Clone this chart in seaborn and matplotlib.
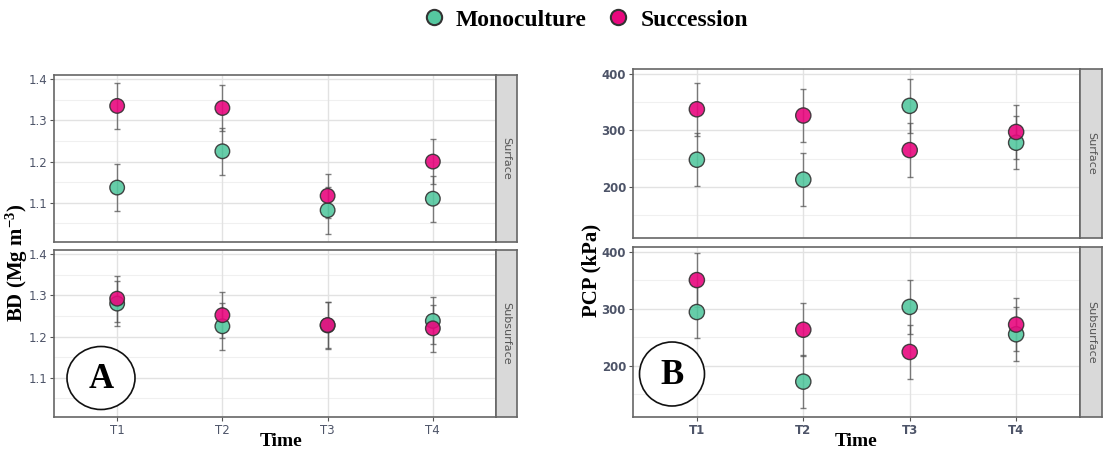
import numpy as np
import pandas as pd
import matplotlib
matplotlib.use("Agg")
import matplotlib.pyplot as plt
from matplotlib.patches import Ellipse
from matplotlib.lines import Line2D
import seaborn as sns

# ---------------- data ----------------
times = ["T1", "T2", "T3", "T4"]
treatments = ["Monoculture", "Succession"]
depths = ["Surface", "Subsurface"]

bd_surface_mono = [1.137, 1.225, 1.082, 1.110]
bd_surface_mono_err = [0.056, 0.057, 0.057, 0.056]
bd_surface_succ = [1.335, 1.330, 1.117, 1.200]
bd_surface_succ_err = [0.055, 0.056, 0.053, 0.055]
bd_subsurface_mono = [1.280, 1.225, 1.227, 1.238]
bd_subsurface_mono_err = [0.055, 0.057, 0.056, 0.057]
bd_subsurface_succ = [1.292, 1.252, 1.228, 1.220]
bd_subsurface_succ_err = [0.056, 0.055, 0.056, 0.057]

pcp_surface_mono = [248, 213, 343, 278]
pcp_surface_mono_err = [47, 47, 48, 47]
pcp_surface_succ = [337, 326, 265, 297]
pcp_surface_succ_err = [47, 47, 47, 47]
pcp_subsurface_mono = [294, 172, 303, 255]
pcp_subsurface_mono_err = [46, 47, 47, 47]
pcp_subsurface_succ = [350, 263, 224, 272]
pcp_subsurface_succ_err = [47, 46, 47, 47]

bd_yticks = [1.1, 1.2, 1.3, 1.4]
pcp_yticks = [200, 300, 400]

colors = {"Monoculture": "#55C8A0", "Succession": "#E8087E"}

sns.set_theme(style="white")
plt.rcParams["font.family"] = ["DejaVu Sans"]
plt.rcParams["mathtext.fontset"] = "custom"
plt.rcParams["mathtext.rm"] = "Liberation Serif:bold"
plt.rcParams["mathtext.bf"] = "Liberation Serif:bold"
plt.rcParams["mathtext.it"] = "Liberation Serif:bold"
plt.rcParams["text.color"] = "black"

W, H = 1120, 454
fig = plt.figure(figsize=(W / 100, H / 100), dpi=100)
fig.patch.set_facecolor("white")


def add_ax(x0, y0, x1, y1):
    return fig.add_axes([x0 / W, 1 - y1 / H, (x1 - x0) / W, (y1 - y0) / H])


def make_df(mono, mono_err, succ, succ_err):
    rows = []
    for t, m, me in zip(times, mono, mono_err):
        rows.append({"Time": t, "Treatment": "Monoculture", "value": m, "err": me})
    for t, s, se in zip(times, succ, succ_err):
        rows.append({"Time": t, "Treatment": "Succession", "value": s, "err": se})
    return pd.DataFrame(rows)


def draw_panel(ax, df, ylim, yticks, minor, fmt, show_x, tick_bold, msize):
    ax.set_facecolor("white")
    for gy in minor:
        ax.axhline(gy, color="#F0F0F0", lw=0.8, zorder=0)
    for gy in yticks:
        ax.axhline(gy, color="#E2E2E2", lw=1.0, zorder=0)
    for gx in range(len(times)):
        ax.axvline(gx, color="#E2E2E2", lw=1.0, zorder=0)
    for tr in treatments:
        sub = df[df["Treatment"] == tr]
        xs = [times.index(t) for t in sub["Time"]]
        ax.errorbar(xs, sub["value"], yerr=sub["err"], fmt="none",
                    ecolor="#555555", elinewidth=1.0, capsize=2, capthick=1.0,
                    alpha=0.75, zorder=2)
    sns.scatterplot(data=df, x="Time", y="value", hue="Treatment",
                    hue_order=treatments, palette=colors, s=msize,
                    edgecolor="#333333", linewidth=1.0, alpha=0.9,
                    legend=False, ax=ax, zorder=3)
    ax.set_xlim(-0.6, 3.6)
    ax.set_ylim(*ylim)
    ax.set_yticks(yticks)
    ax.set_yticklabels([fmt.format(v) for v in yticks], color="#4D5468",
                       fontsize=8.5, fontweight="bold" if tick_bold else "normal")
    ax.set_xticks(range(len(times)))
    if show_x:
        ax.set_xticklabels(times, color="#4D5468", fontsize=8.5,
                           fontweight="bold" if tick_bold else "normal")
    else:
        ax.set_xticklabels([])
        ax.tick_params(axis="x", length=0)
    ax.tick_params(axis="both", which="major", length=3, width=0.8,
                   color="#555555", pad=2, left=True, bottom=show_x)
    ax.set_xlabel("")
    ax.set_ylabel("")
    for sp in ax.spines.values():
        sp.set_color("#666666")
        sp.set_linewidth(1.2)


def draw_strip(x0, y0, x1, y1, label):
    sax = add_ax(x0, y0, x1, y1)
    sax.set_facecolor("#D9D9D9")
    sax.set_xticks([])
    sax.set_yticks([])
    for sp in sax.spines.values():
        sp.set_color("#666666")
        sp.set_linewidth(1.2)
    sax.text(0.5, 0.5, label, rotation=270, ha="center", va="center",
             color="#555555", fontsize=8, transform=sax.transAxes)


bd_frames = {
    "Surface": make_df(bd_surface_mono, bd_surface_mono_err, bd_surface_succ, bd_surface_succ_err),
    "Subsurface": make_df(bd_subsurface_mono, bd_subsurface_mono_err, bd_subsurface_succ, bd_subsurface_succ_err),
}
pcp_frames = {
    "Surface": make_df(pcp_surface_mono, pcp_surface_mono_err, pcp_surface_succ, pcp_surface_succ_err),
    "Subsurface": make_df(pcp_subsurface_mono, pcp_subsurface_mono_err, pcp_subsurface_succ, pcp_subsurface_succ_err),
}

bd_boxes = {"Surface": (54, 75, 496, 242), "Subsurface": (54, 250, 496, 417)}
pcp_boxes = {"Surface": (633, 69, 1080, 238), "Subsurface": (633, 247, 1080, 417)}

for d in depths:
    x0, y0, x1, y1 = bd_boxes[d]
    ax = add_ax(x0, y0, x1, y1)
    draw_panel(ax, bd_frames[d], (1.005, 1.41), bd_yticks, [1.05, 1.15, 1.25, 1.35],
               "{:.1f}", d == "Subsurface", False, 110)
    draw_strip(x1, y0, x1 + 21, y1, d)

for d in depths:
    x0, y0, x1, y1 = pcp_boxes[d]
    ax = add_ax(x0, y0, x1, y1)
    draw_panel(ax, pcp_frames[d], (110, 408), pcp_yticks, [150, 250, 350],
               "{:d}", d == "Subsurface", True, 120)
    draw_strip(x1, y0, x1 + 22, y1, d)

serif = ["Liberation Serif", "DejaVu Serif"]

# axis titles
fig.text(17 / W, 1 - 263 / H, r"BD (Mg m$^{-3}$)", rotation=90, ha="center", va="center",
         fontsize=15, fontweight="bold", family=serif, color="black")
fig.text(591 / W, 1 - 270 / H, "PCP (kPa)", rotation=90, ha="center", va="center",
         fontsize=15, fontweight="bold", family=serif, color="black")
fig.text(281 / W, 1 - 441 / H, "Time", ha="center", va="center",
         fontsize=14, fontweight="bold", family=serif, color="black")
fig.text(856 / W, 1 - 441 / H, "Time", ha="center", va="center",
         fontsize=14, fontweight="bold", family=serif, color="black")

# panel letters in circles
for cx, cy, ew, eh, letter in [(101, 378, 68, 63, "A"), (672, 374, 65, 64, "B")]:
    e = Ellipse((cx / W, 1 - cy / H), ew / W, eh / H, transform=fig.transFigure,
                facecolor="white", edgecolor="#111111", lw=1.2, zorder=10)
    fig.patches.append(e)
    fig.text(cx / W, 1 - (cy + 1) / H, letter, ha="center", va="center",
             fontsize=25, fontweight="bold", family=serif, color="black", zorder=11)

# legend
handles = [Line2D([0], [0], marker="o", linestyle="", markersize=11,
                  markerfacecolor=colors[t], markeredgecolor="#333333",
                  markeredgewidth=1.5, label=t) for t in treatments]
leg = fig.legend(handles=handles, loc="center", bbox_to_anchor=(585 / W, 1 - 20 / H),
                 ncol=2, frameon=False, handlelength=1.0, handletextpad=0.43,
                 columnspacing=0.85,
                 prop={"family": serif, "weight": "bold", "size": 17})
for t in leg.get_texts():
    t.set_color("black")

fig.savefig("out.png", dpi=100, facecolor="white")
